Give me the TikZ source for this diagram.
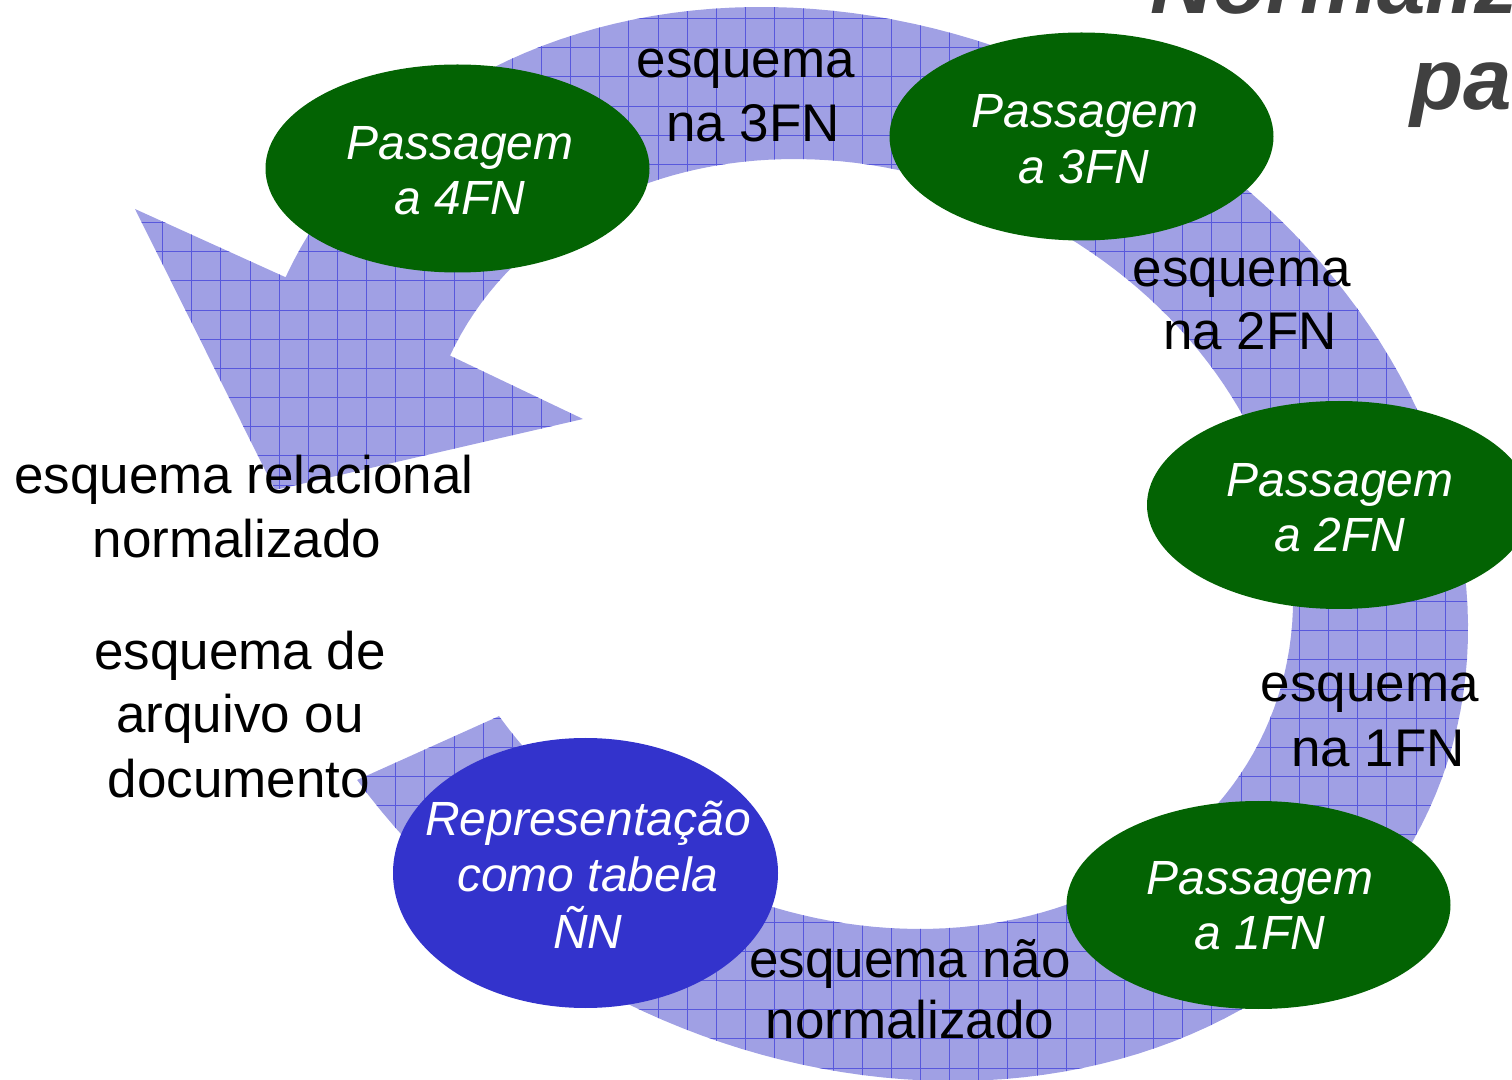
\documentclass[tikz,border=0pt]{standalone}
\usepackage{fontspec}
\setmainfont{Liberation Sans}
\usetikzlibrary{shapes.geometric}
\definecolor{bandfill}{RGB}{160,160,228}
\definecolor{gridline}{RGB}{88,88,220}
\definecolor{passgreen}{RGB}{3,99,3}
\definecolor{repblue}{RGB}{51,51,204}
\definecolor{titlegray}{RGB}{64,64,64}
\tikzset{
  passe/.style={ellipse, fill=passgreen, minimum width=192pt, minimum height=104pt, inner sep=0pt},
  repe/.style={ellipse, fill=repblue, minimum width=192.5pt, minimum height=135pt, inner sep=0pt},
  etext/.style={anchor=base, text=white, font=\fontsize{24}{28}\selectfont\itshape, inner sep=0pt},
  ltext/.style={anchor=base, text=black, font=\fontsize{26.5}{31}\selectfont, inner sep=0pt},
  ttext/.style={anchor=base west, text=titlegray, font=\fontsize{43.5}{50}\selectfont\bfseries\itshape, inner sep=0pt},
  gline/.style={gridline, line width=0.5pt}
}
\begin{document}
\begin{tikzpicture}[x=0.5pt,y=-0.5pt]
\useasboundingbox (0,0) rectangle (1512,1080);
\clip (0,0) rectangle (1512,1080);
% circular arrow band: outer and inner elliptical edges
\begin{scope}
\clip plot[variable=\s, domain=0:1, samples=160]
    ({857 + 570.37*cos(123.86-304.28*\s) - 219.29*sin(123.86-304.28*\s)},
     {544 + 269.13*cos(123.86-304.28*\s) + 464.75*sin(123.86-304.28*\s)})
  -- (135,209) -- (275,490) -- (583,419)
  -- plot[variable=\s, domain=0:1, samples=160]
    ({857 + 408.09*cos(-179.6+304.27*\s) - 153.68*sin(-179.6+304.27*\s)},
     {544 + 186.08*cos(-179.6+304.27*\s) + 337.02*sin(-179.6+304.27*\s)})
  -- cycle;
\fill[bandfill] (0,0) rectangle (1512,1080);
\foreach \k in {-9,...,43} \draw[gline] ({250+29.15*\k},0) -- ({250+29.15*\k},1080);
\foreach \k in {-8,...,30} \draw[gline] (0,{222.7+29.15*\k}) -- (1512,{222.7+29.15*\k});
\end{scope}
% title (cut off by the picture edge)
\node[ttext] (t1) at (1150,13.5) {Normaliz};
\node[ttext] (t2) at (1410,110) {pa};
% ellipses
\node[passe] (e4) at (457.5,168.5) {};
\node[passe] (e3) at (1081.5,136.5) {};
\node[passe] (e2) at (1339,505) {};
\node[passe] (e1) at (1258.5,905) {};
\node[repe] (er) at (585.5,873) {};
% ellipse texts
\node[etext] (e4a) at (460,160) {Passagem};
\node[etext] (e4b) at (460,215) {a 4FN};
\node[etext] (e3a) at (1085,128) {Passagem};
\node[etext] (e3b) at (1084,184) {a 3FN};
\node[etext] (e2a) at (1340,497) {Passagem};
\node[etext] (e2b) at (1340,552) {a 2FN};
\node[etext] (e1a) at (1260,894) {Passagem};
\node[etext] (e1b) at (1260,950) {a 1FN};
\node[etext] (era) at (588,835) {Representação};
\node[etext] (erb) at (588,892) {como tabela};
\node[etext] (erc) at (588,948) {ÑN};
% band labels
\node[ltext] (l3a) at (746,78) {esquema};
\node[ltext] (l3b) at (753,142) {na 3FN};
\node[ltext] (l2a) at (1242,287) {esquema};
\node[ltext] (l2b) at (1250,350) {na 2FN};
\node[ltext] (l1a) at (1370,702) {esquema};
\node[ltext] (l1b) at (1378,767) {na 1FN};
\node[ltext] (l0a) at (910,977) {esquema não};
\node[ltext] (l0b) at (910,1038) {normalizado};
\node[ltext] (lra) at (244,494) {esquema relacional};
\node[ltext] (lrb) at (237,558) {normalizado};
\node[ltext] (lda) at (240,670) {esquema de};
\node[ltext] (ldb) at (240,733) {arquivo ou};
\node[ltext] (ldc) at (239,798) {documento};
\end{tikzpicture}
\end{document}
